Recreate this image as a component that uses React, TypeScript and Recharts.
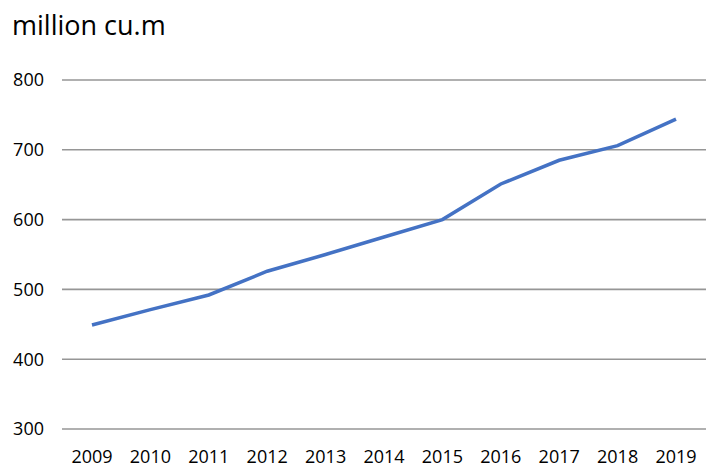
import React from "react";
import { LineChart, Line, XAxis, YAxis, CartesianGrid } from "recharts";

const years = ["2009", "2010", "2011", "2012", "2013", "2014", "2015", "2016", "2017", "2018", "2019"];
const volumes = [449, 471, 492, 526, 550, 575, 600, 651, 685, 706, 744];
const yTicks = [300, 400, 500, 600, 700, 800];
const unitLabel = "million cu.m";

const data = years.map((y, i) => ({ year: y, value: volumes[i] }));

const FONT = "'Open Sans', sans-serif";

export default function App() {
  return (
    <div style={{ position: "absolute", left: 0, top: 0, width: 712, height: 468, background: "#fff" }}>
      <LineChart
        width={712}
        height={468}
        data={data}
        margin={{ top: 80, right: 6, bottom: 0, left: 0 }}
      >
        <CartesianGrid vertical={false} stroke="#969696" strokeWidth={1.6} />
        <XAxis
          dataKey="year"
          axisLine={false}
          tickLine={false}
          padding={{ left: 30, right: 30 }}
          height={39}
          tickMargin={15}
          interval={0}
          tick={{ fill: "#000", fontSize: 18, fontFamily: FONT }}
        />
        <YAxis
          domain={[300, 800]}
          ticks={yTicks}
          axisLine={false}
          tickLine={false}
          width={62}
          tickMargin={12}
          interval={0}
          tick={{ fill: "#000", fontSize: 18, fontFamily: FONT }}
        />
        <Line
          type="linear"
          dataKey="value"
          stroke="#4472C4"
          strokeWidth={3.5}
          dot={false}
          isAnimationActive={false}
        />
      </LineChart>
      <svg width={712} height={468} style={{ position: "absolute", left: 0, top: 0, pointerEvents: "none" }}>
        <text x={12} y={35} fontSize={27} fontFamily={FONT} fill="#000">
          {unitLabel}
        </text>
      </svg>
    </div>
  );
}
